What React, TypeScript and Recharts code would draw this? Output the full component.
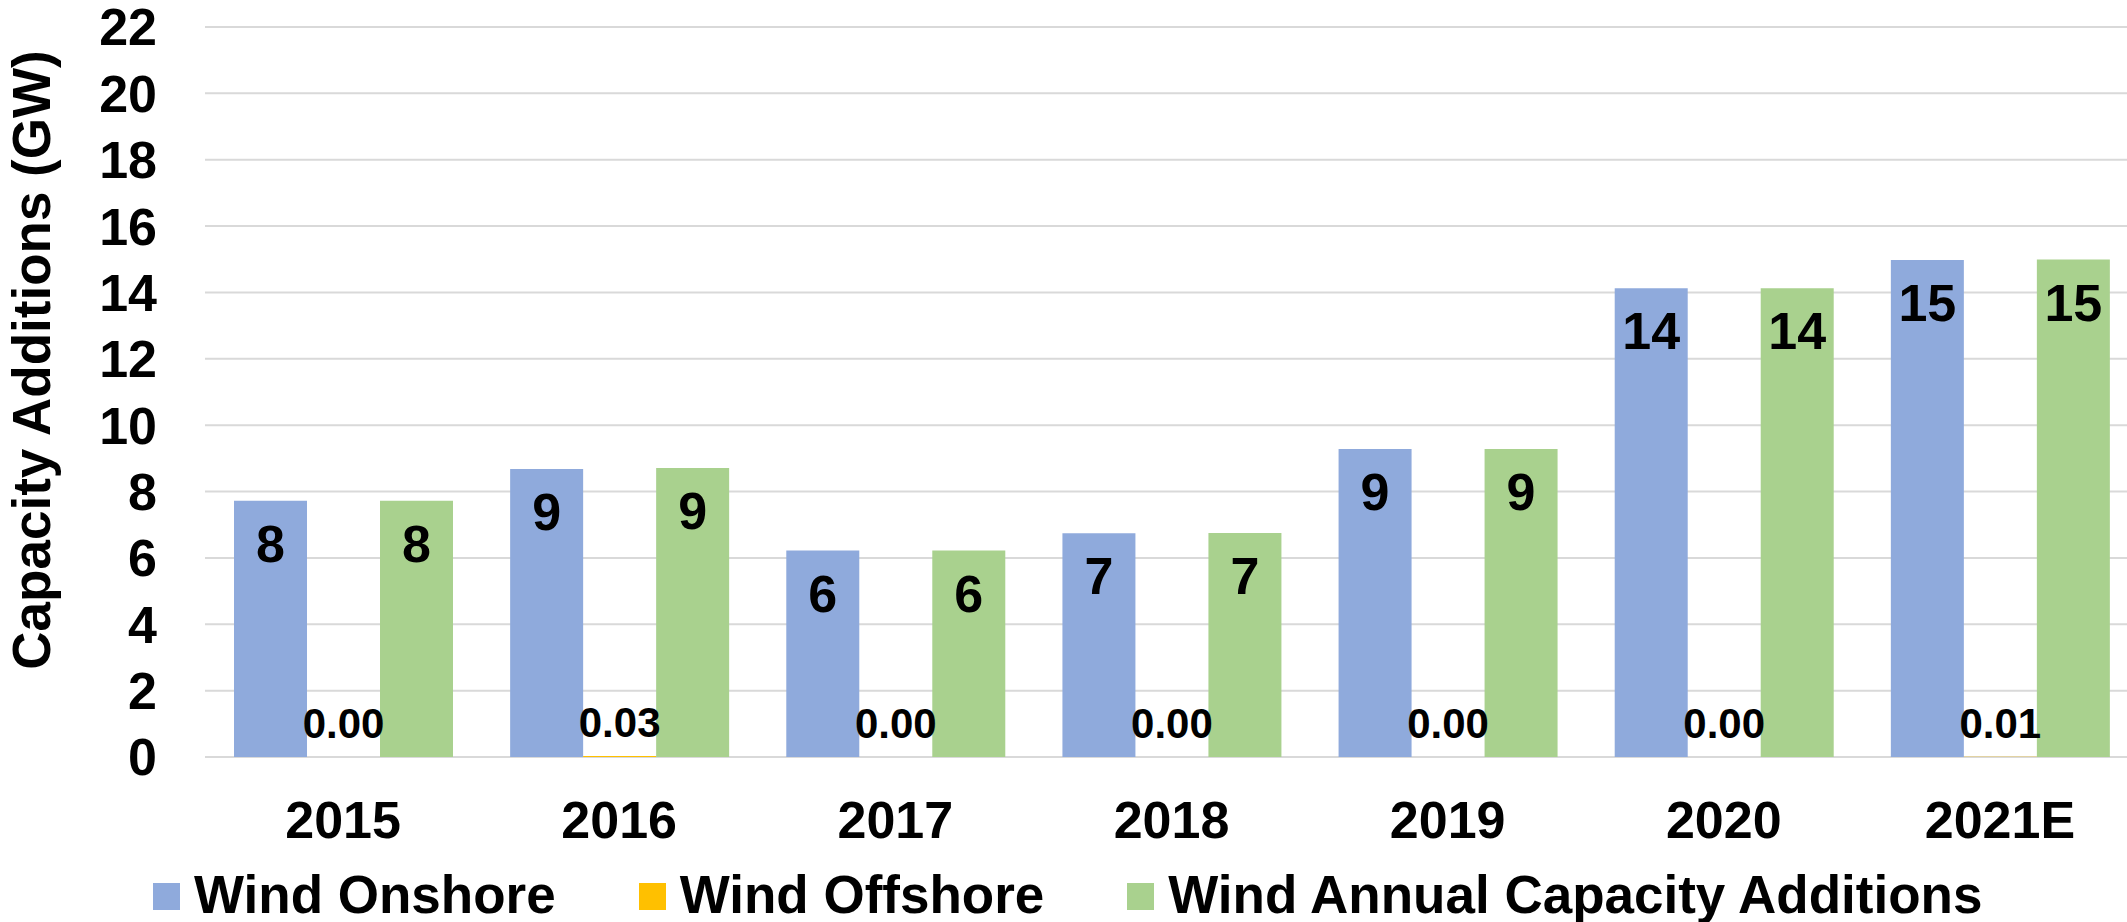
import React from 'react'
import { BarChart, Bar, XAxis, YAxis, CartesianGrid, Legend, LabelList } from 'recharts'

const years = ['2015', '2016', '2017', '2018', '2019', '2020', '2021E']
const onshore = [7.72, 8.68, 6.22, 6.74, 9.28, 14.13, 14.98]
// the chart prints these as 0.00, so they are small but not exactly zero
const offshore = [0.001, 0.03, 0.001, 0.001, 0.001, 0.001, 0.01]
const annual = [7.72, 8.71, 6.22, 6.75, 9.28, 14.13, 14.99]
const yTicks = [0, 2, 4, 6, 8, 10, 12, 14, 16, 18, 20, 22]
const seriesNames = ['Wind Onshore', 'Wind Offshore', 'Wind Annual Capacity Additions']

const data = years.map((year, i) => ({
  year,
  onshore: onshore[i],
  offshore: offshore[i],
  annual: annual[i],
}))

const FONT = '"Liberation Sans", Arial, sans-serif'

function YTitle() {
  return (
    <text
      x={50}
      y={360}
      transform="rotate(-90 50 360)"
      textAnchor="middle"
      fontFamily={FONT}
      fontSize={53}
      fontWeight="bold"
      fill="#000"
    >
      Capacity Additions (GW)
    </text>
  )
}

function LegendContent({ payload }: any) {
  const items = [...(payload || [])].sort(
    (a: any, b: any) => seriesNames.indexOf(a.value) - seriesNames.indexOf(b.value)
  )
  return (
    <div style={{ display: 'flex', alignItems: 'center', fontFamily: FONT, fontSize: 53, fontWeight: 'bold', lineHeight: '53px', whiteSpace: 'nowrap' }}>
      {items.map((entry: any) => (
        <div key={entry.value} style={{ display: 'flex', alignItems: 'center', marginRight: 83 }}>
          <span style={{ display: 'inline-block', width: 27, height: 27, background: entry.color, marginRight: 14, marginTop: 4 }} />
          <span style={{ color: '#000' }}>{entry.value}</span>
        </div>
      ))}
    </div>
  )
}

export default function App() {
  const bigLabel = { fill: '#000', fontSize: 52, fontWeight: 'bold', fontFamily: FONT }
  return (
    <div style={{ position: 'fixed', left: 0, top: 0, width: 2127, height: 922, overflow: 'hidden', background: '#fff' }}>
      <BarChart
        width={2138}
        height={922}
        data={data}
        margin={{ top: 27, right: 0, bottom: 105, left: 0 }}
        barCategoryGap={29}
        barGap={0}
      >
        <CartesianGrid horizontal vertical={false} stroke="#d9d9d9" strokeWidth={2} />
        <XAxis
          dataKey="year"
          axisLine={false}
          tickLine={false}
          tickSize={8}
          tickMargin={36}
          height={60}
          interval={0}
          tick={{ fill: '#000', fontSize: 52, fontWeight: 'bold', fontFamily: FONT }}
        />
        <YAxis
          domain={[0, 22]}
          ticks={yTicks}
          interval={0}
          width={205}
          axisLine={false}
          tickLine={false}
          tickSize={8}
          tickMargin={40}
          tick={{ fill: '#000', fontSize: 52, fontWeight: 'bold', fontFamily: FONT }}
          label={YTitle}
        />
        <Legend
          layout="horizontal"
          verticalAlign="middle"
          align="center"
          wrapperStyle={{ left: 153, top: 868, width: 1950, height: 54 }}
          content={LegendContent}
        />
        <Bar dataKey="onshore" name={seriesNames[0]} fill="#8faadc" isAnimationActive={false}>
          <LabelList dataKey="onshore" position="insideTop" offset={24} formatter={(v: any) => Number(v).toFixed(0)} style={bigLabel} />
        </Bar>
        <Bar dataKey="offshore" name={seriesNames[1]} fill="#ffc000" isAnimationActive={false}>
          <LabelList
            dataKey="offshore"
            position="top"
            offset={19}
            formatter={(v: any) => Number(v).toFixed(2)}
            style={{ fill: '#000', fontSize: 42, fontWeight: 'bold', fontFamily: FONT }}
          />
        </Bar>
        <Bar dataKey="annual" name={seriesNames[2]} fill="#a9d18e" isAnimationActive={false}>
          <LabelList dataKey="annual" position="insideTop" offset={24} formatter={(v: any) => Number(v).toFixed(0)} style={bigLabel} />
        </Bar>
      </BarChart>
    </div>
  )
}
